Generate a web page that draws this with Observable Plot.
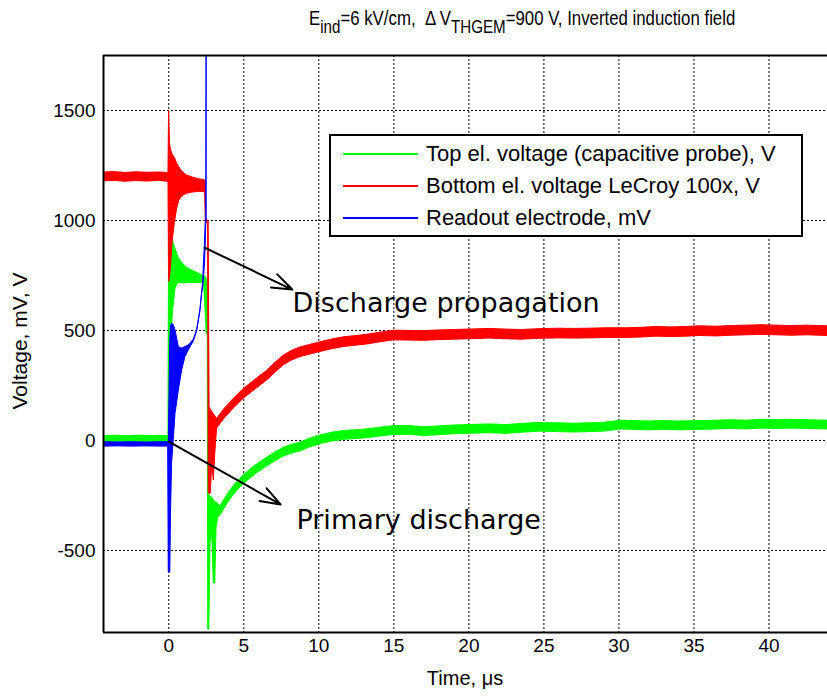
<!DOCTYPE html>
<html>
<head>
<meta charset="utf-8">
<script src="https://cdn.jsdelivr.net/npm/d3@7"></script>
<script src="https://cdn.jsdelivr.net/npm/@observablehq/plot@0.6"></script>
<style>
  body { margin: 0; background: #fff; }
  #wrap { position: relative; width: 827px; height: 696px; font-family: "Liberation Sans", Arial, sans-serif; color: #000; }
  #wrap svg { position: absolute; left: 0; top: 0; }
  #title { position: absolute; left: 309px; top: 7px; font-size: 20px; white-space: pre; transform: scaleX(0.84); transform-origin: 0 0; }
  #title sub { font-size: 18px; vertical-align: -8px; line-height: 0; }
  #xlabel { position: absolute; left: 103px; width: 724px; top: 667px; text-align: center; font-size: 20px; }
  #ylabel { position: absolute; left: 20px; top: 341px; font-size: 21px; white-space: nowrap; transform: translate(-50%, -50%) rotate(-90deg); }
  #legend { position: absolute; left: 329px; top: 134px; width: 474px; height: 103px; border: 2px solid #000; background: #fff; box-sizing: border-box; }
  .row { position: absolute; left: 12px; height: 24px; font-size: 22px; display: flex; align-items: center; white-space: nowrap; }
  .row span.swatch { display: inline-block; width: 75px; height: 2px; margin-right: 8px; }
</style>
</head>
<body>
<div id="wrap">
  <div id="title">E<sub>ind</sub>=6 kV/cm,  Δ V<sub>THGEM</sub>=900 V, Inverted induction field</div>
  <div id="chart"></div>
  <div id="legend"></div>
  <div id="xlabel">Time, μs</div>
  <div id="ylabel">Voltage, mV, V</div>
</div>
<script>
// Axis extents and tick positions
const xDomain = [-4.35, 43.9];
const yDomain = [-873, 1750];
const xTicks = [0, 5, 10, 15, 20, 25, 30, 35, 40];
const yTicks = [-500, 0, 500, 1000, 1500];

// Each trace sample: [time µs, lower edge of the noise band, upper edge]
const topElectrode = [
  [-4.35, -10, 20], [-3.5, -8, 22], [-2.8, -11, 19], [-2.0, -9, 22], [-1.2, -10, 20], [-0.5, -8, 21], [-0.02, -10, 20],
  [0.02, -10, 960], [0.1, 300, 955], [0.2, 500, 930], [0.3, 600, 900], [0.45, 690, 870], [0.6, 713, 840],
  [0.8, 715, 815], [1.0, 714, 800], [1.2, 715, 785], [1.5, 716, 775], [1.8, 715, 765], [2.1, 716, 755],
  [2.35, 715, 748], [2.45, 600, 745], [2.52, 485, 735], [2.6, 480, 730],
  [2.63, -860, 500], [2.7, -860, -250], [2.78, -470, -255], [2.9, -420, -260], [3.0, -650, -270],
  [3.1, -650, -285], [3.18, -400, -280], [3.3, -350, -290], [3.45, -340, -298],
  [3.8, -300, -260], [4.33, -247, -207], [4.9, -205, -165], [5.45, -172, -132], [6.0, -144, -104],
  [6.56, -118, -78], [7.1, -95, -55], [7.67, -73, -33], [8.2, -60, -20], [8.78, -50, -10],
  [9.4, -32, 8], [10.1, -17, 23], [10.9, -5, 35], [11.67, 3, 43], [12.4, 6, 46], [13.2, 10, 50],
  [14.1, 18, 58], [15.0, 25, 65], [16.0, 26, 66], [17.0, 20, 60], [18.0, 24, 64], [19.0, 28, 68],
  [20.0, 30, 70], [21.4, 33, 73], [22.5, 30, 70], [23.5, 35, 75], [24.7, 40, 80], [26.0, 38, 78],
  [27.0, 36, 76], [28.0, 38, 78], [29.0, 40, 80], [30.2, 50, 90], [31.0, 48, 88], [32.0, 46, 86],
  [33.0, 48, 88], [34.0, 46, 86], [35.4, 48, 88], [36.5, 50, 90], [37.5, 52, 92], [38.5, 50, 90],
  [39.5, 54, 94], [40.5, 52, 92], [41.5, 54, 94], [42.5, 52, 92], [43.9, 50, 90]
];

const bottomElectrode = [
  [-4.35, 1178, 1218], [-3.6, 1180, 1220], [-2.9, 1176, 1216], [-2.2, 1179, 1219], [-1.4, 1177, 1217],
  [-0.7, 1180, 1218], [-0.02, 1176, 1216],
  [0.02, 720, 1500], [0.08, 740, 1350], [0.15, 790, 1320], [0.25, 900, 1300], [0.4, 985, 1285],
  [0.55, 1050, 1260], [0.7, 1090, 1242], [0.9, 1110, 1222], [1.2, 1121, 1205], [1.6, 1127, 1195],
  [2.0, 1130, 1188], [2.42, 1130, 1182], [2.47, 992, 1180], [2.5, 990, 1002],
  [2.62, 988, 1000], [2.66, -240, 995], [2.72, -245, 150], [2.8, -240, 140], [2.9, -100, 130],
  [3.0, -182, 120], [3.1, -60, 110], [3.22, 54, 98],
  [3.7, 98, 142], [4.33, 145, 189], [5.0, 190, 234], [5.8, 233, 277], [6.56, 273, 317],
  [7.1, 308, 352], [7.67, 342, 386], [8.2, 363, 407], [8.78, 379, 423], [9.4, 390, 434],
  [10.1, 402, 446], [10.9, 415, 459], [11.67, 425, 469], [12.4, 430, 474], [13.2, 436, 480],
  [14.1, 446, 490], [15.0, 455, 499], [16.0, 454, 498], [17.0, 453, 497], [18.0, 456, 500],
  [19.0, 458, 502], [20.0, 460, 504], [21.4, 463, 507], [22.5, 460, 504], [23.5, 458, 502],
  [24.7, 462, 506], [26.0, 464, 508], [27.0, 463, 507], [28.0, 464, 508], [29.2, 466, 510],
  [30.5, 466, 510], [31.5, 468, 512], [32.5, 472, 516], [33.5, 470, 514], [34.5, 472, 516],
  [35.4, 475, 519], [36.5, 473, 517], [37.5, 476, 520], [38.5, 478, 522], [39.5, 480, 524],
  [40.5, 478, 522], [41.5, 476, 520], [42.5, 478, 522], [43.9, 475, 519]
];

const readout = [
  [-4.35, -28, -8], [-3.4, -27, -9], [-2.5, -28, -8], [-1.5, -27, -9], [-0.6, -28, -8], [-0.04, -28, -8],
  [0.0, -600, -8], [0.1, -600, 455], [0.15, -333, 520], [0.22, -106, 530], [0.33, 0, 525],
  [0.45, 121, 500], [0.67, 227, 424], [0.89, 318, 418], [1.11, 379, 425], [1.33, 409, 432],
  [1.5, 430, 445], [1.67, 450, 458], [1.89, 495, 502], [2.11, 588, 594], [2.22, 665, 670],
  [2.3, 700, 727], [2.33, 727, 788], [2.4, 788, 880], [2.46, 880, 990], [2.5, 990, 995],
  [2.52, 995, 1760]
];

// Annotation arrows and their captions
const arrows = [
  {x1: 2.4, y1: 876, x2: 8.23, y2: 686},
  {x1: 0.0, y1: -5, x2: 7.45, y2: -291}
];
const notes = [
  {x: 8.25, y: 623, text: "Discharge propagation"},
  {x: 8.51, y: -364, text: "Primary discharge"}
];

const series = [
  {name: "Top el. voltage (capacitive probe), V", color: "#00ff00", data: topElectrode},
  {name: "Bottom el. voltage LeCroy 100x, V", color: "#ff0000", data: bottomElectrode},
  {name: "Readout electrode, mV", color: "#0000ff", data: readout}
];

const traceMarks = series.map(s => Plot.areaY(s.data, {
  x: d => d[0], y1: d => d[1], y2: d => d[2],
  fill: s.color, stroke: s.color, strokeWidth: 1, clip: true
}));

const grid = {stroke: "#000", strokeOpacity: 1, strokeWidth: 1, strokeDasharray: "2,2"};

const chart = Plot.plot({
  width: 827, height: 696,
  marginLeft: 103, marginRight: 0, marginTop: 55, marginBottom: 64,
  x: {domain: xDomain},
  y: {domain: yDomain},
  style: {fontFamily: "'Liberation Sans', Arial, sans-serif", fontSize: "19px", color: "#000", background: "transparent"},
  marks: [
    Plot.gridX(xTicks, grid),
    Plot.gridY(yTicks, grid),
    ...traceMarks,
    Plot.arrow(arrows, {x1: "x1", y1: "y1", x2: "x2", y2: "y2", stroke: "#000", strokeWidth: 2, headLength: 16, headAngle: 40}),
    Plot.text(notes, {x: "x", y: "y", text: "text", textAnchor: "start", fontSize: 27, fontFamily: "DejaVu Sans", fill: "#000"}),
    Plot.axisX(xTicks, {tickSize: 0, tickPadding: 6, label: null, fontSize: 19, tickFormat: d => String(d)}),
    Plot.axisY(yTicks, {tickSize: 0, tickPadding: 8, label: null, fontSize: 19, tickFormat: d => String(d)}),
    Plot.ruleX([xDomain[0]], {stroke: "#000", strokeWidth: 2}),
    Plot.ruleY([yDomain[0]], {stroke: "#000", strokeWidth: 2}),
    Plot.ruleY([yDomain[1]], {stroke: "#000", strokeWidth: 2})
  ]
});
document.getElementById("chart").appendChild(chart);

// Legend entries
const legend = document.getElementById("legend");
series.forEach((s, i) => {
  const row = document.createElement("div");
  row.className = "row";
  row.style.top = (6 + i * 32) + "px";
  const sw = document.createElement("span");
  sw.className = "swatch";
  sw.style.background = s.color;
  row.appendChild(sw);
  row.appendChild(document.createTextNode(s.name));
  legend.appendChild(row);
});
</script>
</body>
</html>
